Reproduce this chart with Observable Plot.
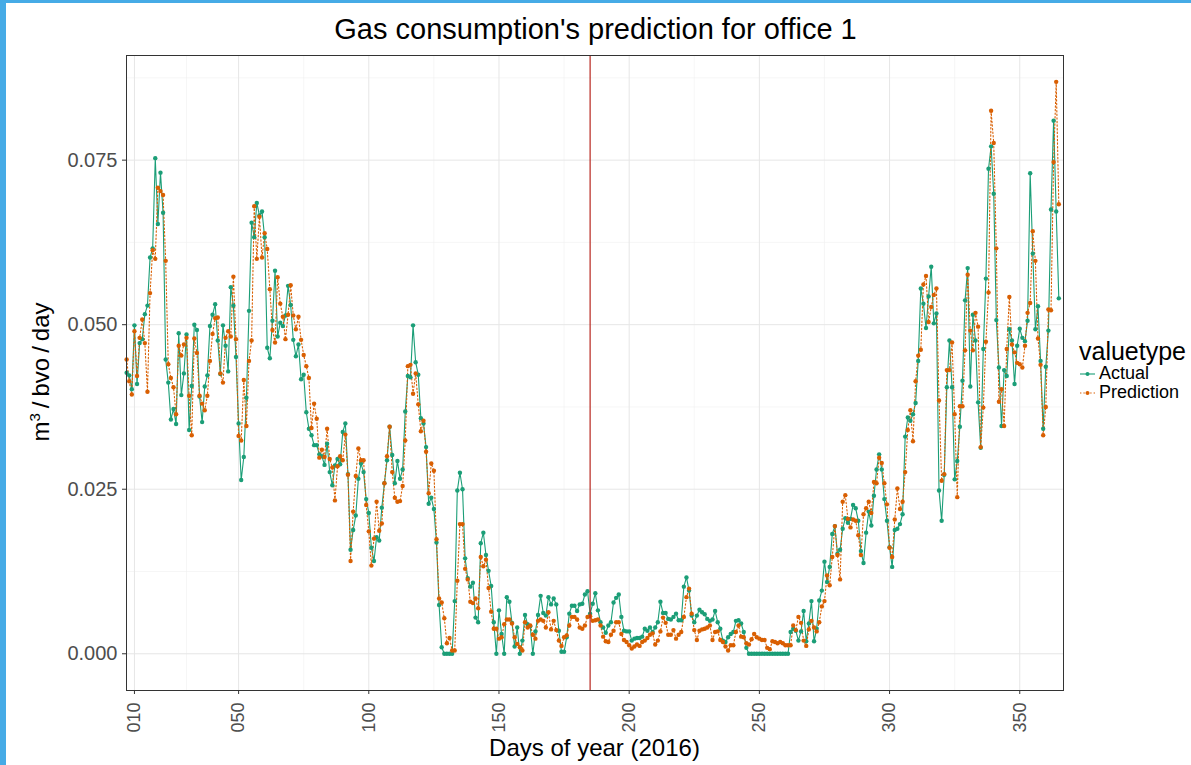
<!DOCTYPE html>
<html>
<head>
<meta charset="utf-8">
<script src="https://cdn.jsdelivr.net/npm/d3@7"></script>
<script src="https://cdn.jsdelivr.net/npm/@observablehq/plot@0.6"></script>
<style>
  html, body { margin: 0; padding: 0; background: #fff; }
  body { width: 1191px; height: 765px; overflow: hidden; position: relative; font-family: "Liberation Sans", Arial, sans-serif; }
  #chart { position: absolute; left: 0; top: 0; }
  .edge-left { position: absolute; left: 0; top: 0; width: 6px; height: 765px; background: #46abe6; }
  .edge-top { position: absolute; left: 0; top: 0; width: 1191px; height: 3px; background: #46abe6; }
  #title { position: absolute; left: 0; top: 12px; width: 1191px; text-align: center; font-size: 29px; line-height: 34px; color: #000; }
  #xlabel { position: absolute; left: 126px; width: 937px; top: 734px; text-align: center; font-size: 24px; line-height: 28px; color: #000; }
  #ylabel { position: absolute; left: 40px; top: 372px; transform: translate(-50%, -50%) rotate(-90deg); font-size: 24px; color: #000; white-space: nowrap; }
  #ylabel sup { font-size: 15px; vertical-align: 9px; }
  #ylabel .sl { margin: 0 5px; }
  #legend { position: absolute; left: 1079px; top: 338px; color: #000; }
  #legend .lt { font-size: 25px; line-height: 26px; }
  #legend .item { display: flex; align-items: center; font-size: 18px; line-height: 19px; }
  #legend svg { margin-right: 3px; }
</style>
</head>
<body>
<div id="chart"></div>
<div class="edge-left"></div>
<div class="edge-top"></div>
<div id="title">Gas consumption's prediction for office 1</div>
<div id="xlabel">Days of year (2016)</div>
<div id="ylabel">m<sup>3</sup><span class="sl">/</span>bvo<span class="sl">/</span>day</div>
<div id="legend"></div>
<script>
// ---- data ----
const startDay = 7;
const seriesNames = ["Actual", "Prediction"];
const seriesColors = ["#1b9e77", "#d95f02"];
const legendTitle = "valuetype";
const splitDay = 185;
const xTicks = [10, 50, 100, 150, 200, 250, 300, 350];
const xMinorTicks = [30, 75, 125, 175, 225, 275, 325];
const yTicks = [0, 0.025, 0.05, 0.075];
const yMinorTicks = [0.0125, 0.0375, 0.0625, 0.0875];

const actual = [
0.0427,0.0423,0.0402,0.0499,0.0410,0.0472,0.0478,0.0516,0.0529,0.0602,
0.0616,0.0753,0.0653,0.0731,0.0670,0.0447,0.0412,0.0356,0.0372,0.0349,
0.0487,0.0393,0.0426,0.0485,0.0340,0.0407,0.0500,0.0492,0.0391,0.0352,
0.0406,0.0423,0.0498,0.0515,0.0531,0.0476,0.0425,
0.0499,0.0468,0.0429,0.0557,0.0529,0.0451,0.0350,0.0264,0.0299,0.0389,
0.0521,0.0655,0.0633,0.0685,0.0666,0.0672,0.0633,0.0465,0.0449,0.0506,
0.0582,0.0482,0.0503,0.0498,0.0514,0.0559,0.0530,0.0477,0.0452,0.0470,0.0417,0.0424,
0.0367,0.0342,0.0332,0.0317,0.0317,0.0303,0.0300,0.0287,0.0319,0.0276,
0.0256,0.0286,0.0296,0.0288,0.0337,0.0350,0.0273,0.0158,0.0188,0.0210,
0.0266,0.0289,0.0276,0.0235,0.0214,0.0161,0.0141,0.0177,0.0172,0.0222,
0.0259,0.0294,0.0345,0.0302,0.0259,0.0293,0.0266,0.0280,0.0368,0.0422,
0.0420,0.0499,0.0443,0.0424,0.0358,0.0350,0.0314,0.0228,0.0237,0.0220,
0.0169,0.0074,0.0010,0,0,0,0,0.0080,0.0248,0.0275,
0.0250,0.0145,0.0115,0.0102,0.0108,0.0055,0.0048,0.0168,0.0184,0.0150,
0.0126,0.0103,0.0048,0,0.0066,0.0030,0,0.0086,0.0079,0.0047,
0.0011,0.0040,0,0.0020,0.0059,0.0045,0.0042,0,0.0034,0.0059,
0.0088,0.0062,0.0058,0.0086,0.0075,0.0084,0.0075,0.0035,0.0003,0.0003,
0.0025,0.0061,0.0073,0.0073,0.0065,0.0075,0.0076,0.0090,0.0095,0.0061,
0.0076,0.0092,0.0066,0.0048,0.0040,0.0032,0.0043,0.0048,0.0078,0.0085,
0.0090,0.0056,0.0035,0.0034,0.0034,0.0020,0.0023,0.0024,0.0024,0.0026,
0.0038,0.0035,0.0040,0.0033,0.0040,0.0048,0.0079,0.0062,0.0062,0.0053,
0.0052,0.0056,0.0061,0.0051,0.0051,0.0102,0.0116,0.0096,0.0058,0.0048,
0.0058,0.0067,0.0063,0.0060,0.0053,0.0050,0.0052,0.0065,0.0048,0.0038,
0.0020,0.0018,0.0025,0.0030,0.0033,0.0050,0.0051,0.0046,0.0033,0.0009,
0,0,0,0,0,0,0,0,0,0,
0,0,0,0,0,0,
0.0033,0.0038,0.0035,0.0020,0.0034,0.0065,0.0019,0.0046,0.0080,0.0019,
0.0038,0.0081,0.0096,0.0140,0.0109,0.0132,0.0182,0.0194,0.0152,0.0158,
0.0190,0.0206,0.0199,0.0205,0.0226,0.0221,0.0202,0.0156,0.0138,0.0184,
0.0216,0.0195,0.0240,0.0280,0.0303,0.0280,0.0235,0.0202,0.0162,0.0132,
0.0188,0.0190,0.0197,0.0212,0.0330,0.0359,0.0354,0.0364,0.0381,0.0445,
0.0555,0.0532,0.0495,0.0543,0.0588,0.0502,0.0517,0.0248,0.0202,0.0272,
0.0405,0.0476,0.0405,0.0265,0.0293,0.0345,0.0415,0.0537,0.0586,0.0406,
0.0515,0.0476,0.0382,0.0313,0.0463,0.0570,0.0737,0.0771,0.0699,0.0507,
0.0435,0.0346,0.0431,0.0422,0.0493,0.0476,0.0410,0.0468,0.0494,0.0480,
0.0475,0.0506,0.0730,0.0608,0.0493,0.0528,0.0445,0.0342,0.0436,0.0491,
0.0675,0.0810,0.0672,0.0540
];

const prediction = [
0.0447,0.0414,0.0394,0.0490,0.0422,0.0480,0.0508,0.0472,0.0398,0.0548,
0.0613,0.0600,0.0708,0.0703,0.0697,0.0597,0.0440,0.0419,0.0405,0.0364,
0.0468,0.0453,0.0470,0.0480,0.0392,0.0332,0.0479,0.0457,0.0392,0.0380,
0.0370,0.0392,0.0445,0.0486,0.0510,0.0511,0.0426,
0.0412,0.0480,0.0490,0.0482,0.0573,0.0478,0.0331,0.0324,0.0416,0.0346,
0.0445,0.0476,0.0680,0.0600,0.0664,0.0602,0.0639,0.0615,0.0554,0.0492,
0.0473,0.0572,0.0532,0.0512,0.0478,0.0515,0.0560,0.0514,0.0493,0.0512,0.0477,0.0454,
0.0437,0.0419,0.0343,0.0380,0.0357,0.0298,0.0310,0.0299,0.0342,0.0296,
0.0283,0.0233,0.0285,0.0300,0.0294,0.0333,0.0272,0.0141,0.0216,0.0270,
0.0312,0.0294,0.0294,0.0226,0.0186,0.0134,0.0175,0.0231,0.0187,0.0198,
0.0259,0.0300,0.0345,0.0276,0.0237,0.0231,0.0232,0.0255,0.0324,0.0437,
0.0439,0.0395,0.0426,0.0379,0.0338,0.0354,0.0307,0.0244,0.0289,0.0278,
0.0174,0.0084,0.0078,0.0054,0.0016,0.0024,0.0005,0.0005,0.0111,0.0197,
0.0197,0.0129,0.0113,0.0079,0.0077,0.0084,0.0069,0.0147,0.0133,0.0143,
0.0100,0.0064,0.0038,0.0038,0.0023,0.0025,0.0045,0.0052,0.0052,0.0046,
0.0025,0.0015,0.0010,0.0005,0.0048,0.0040,0.0043,0.0029,0.0023,0.0050,
0.0052,0.0050,0.0040,0.0063,0.0037,0.0050,0.0036,0.0020,0.0012,0.0025,
0.0028,0.0043,0.0056,0.0056,0.0052,0.0040,0.0038,0.0043,0.0056,0.0057,
0.0050,0.0051,0.0052,0.0043,0.0026,0.0019,0.0018,0.0029,0.0035,0.0048,
0.0048,0.0030,0.0021,0.0018,0.0013,0.0008,0.0011,0.0014,0.0012,0.0018,
0.0020,0.0024,0.0029,0.0031,0.0014,0.0020,0.0034,0.0055,0.0047,0.0029,
0.0029,0.0036,0.0023,0.0029,0.0033,0.0056,0.0086,0.0099,0.0061,0.0036,
0.0021,0.0035,0.0037,0.0038,0.0040,0.0043,0.0021,0.0033,0.0034,0.0021,
0.0018,0.0011,0.0005,0.0013,0.0013,0.0033,0.0043,0.0026,0.0025,0.0016,
0.0014,0.0022,0.0030,0.0025,0.0023,0.0021,0.0021,0.0009,0.0007,0.0019,
0.0018,0.0016,0.0018,0.0016,0.0013,0.0013,
0.0013,0.0043,0.0036,0.0056,0.0047,0.0020,0.0012,0.0037,0.0050,0.0040,
0.0034,0.0048,0.0072,0.0080,0.0119,0.0104,0.0147,0.0194,0.0150,0.0113,
0.0231,0.0241,0.0205,0.0192,0.0204,0.0202,0.0180,0.0150,0.0212,0.0221,
0.0231,0.0214,0.0261,0.0259,0.0298,0.0290,0.0259,0.0227,0.0161,0.0147,
0.0204,0.0251,0.0220,0.0231,0.0276,0.0340,0.0370,0.0323,0.0414,0.0453,
0.0462,0.0561,0.0574,0.0504,0.0527,0.0545,0.0555,0.0385,0.0263,0.0273,
0.0431,0.0431,0.0473,0.0364,0.0238,0.0376,0.0376,0.0461,0.0576,0.0491,
0.0461,0.0518,0.0497,0.0314,0.0374,0.0474,0.0549,0.0825,0.0776,0.0616,
0.0383,0.0402,0.0346,0.0463,0.0542,0.0470,0.0458,0.0442,0.0440,0.0435,
0.0468,0.0518,0.0533,0.0642,0.0597,0.0479,0.0439,0.0332,0.0375,0.0523,
0.0522,0.0747,0.0869,0.0683
];

// ---- build the long table ----
const rows = [];
actual.forEach((v, i) => rows.push({day: startDay + i, value: v, valuetype: seriesNames[0]}));
prediction.forEach((v, i) => rows.push({day: startDay + i, value: v, valuetype: seriesNames[1]}));
const actualRows = rows.filter(d => d.valuetype === seriesNames[0]);
const predRows = rows.filter(d => d.valuetype === seriesNames[1]);

const chart = Plot.plot({
  width: 1191,
  height: 765,
  marginLeft: 126,
  marginRight: 128,
  marginTop: 55,
  marginBottom: 75,
  style: {fontFamily: "'Liberation Sans', Arial, sans-serif", fontSize: "19px", background: "transparent", color: "#4d4d4d"},
  x: {domain: [6.95, 366.8]},
  y: {domain: [-0.00558, 0.0909]},
  color: {domain: seriesNames, range: seriesColors},
  marks: [
    Plot.gridX(xMinorTicks, {stroke: "#f0f0f0", strokeOpacity: 1, strokeWidth: 0.6}),
    Plot.gridY(yMinorTicks, {stroke: "#f0f0f0", strokeOpacity: 1, strokeWidth: 0.6}),
    Plot.gridX(xTicks, {stroke: "#e6e6e6", strokeOpacity: 1, strokeWidth: 1}),
    Plot.gridY(yTicks, {stroke: "#e6e6e6", strokeOpacity: 1, strokeWidth: 1}),
    Plot.line(actualRows, {x: "day", y: "value", stroke: "valuetype", strokeWidth: 1.1}),
    Plot.line(predRows, {x: "day", y: "value", stroke: "valuetype", strokeWidth: 1.1, strokeDasharray: "1.4,2.2"}),
    Plot.dot(rows, {x: "day", y: "value", fill: "valuetype", r: 2.2, stroke: "none"}),
    Plot.ruleX([splitDay], {stroke: "#b8261e", strokeWidth: 1.2}),
    Plot.axisX(xTicks, {tickFormat: d3.format("03d"), tickRotate: -90, tickSize: 4, tickPadding: 8, stroke: "#333", fill: "#4d4d4d", fontSize: 18, label: null}),
    Plot.axisY(yTicks, {tickFormat: d3.format(".3f"), tickSize: 4, tickPadding: 5, stroke: "#333", fill: "#4d4d4d", fontSize: 20, label: null}),
    Plot.frame({stroke: "#333", strokeWidth: 1})
  ]
});
document.getElementById("chart").appendChild(chart);

// ---- legend ----
const leg = document.getElementById("legend");
const lt = document.createElement("div");
lt.className = "lt";
lt.textContent = legendTitle;
leg.appendChild(lt);
seriesNames.forEach((name, i) => {
  const item = document.createElement("div");
  item.className = "item";
  const dash = i === 0 ? "" : 'stroke-dasharray="1.4,2"';
  item.innerHTML = `<svg width="17" height="12"><line x1="1" x2="16" y1="6" y2="6" stroke="${seriesColors[i]}" stroke-width="1.1" ${dash}></line><circle cx="8.5" cy="6" r="2" fill="${seriesColors[i]}"></circle></svg><span>${name}</span>`;
  leg.appendChild(item);
});
</script>
</body>
</html>
